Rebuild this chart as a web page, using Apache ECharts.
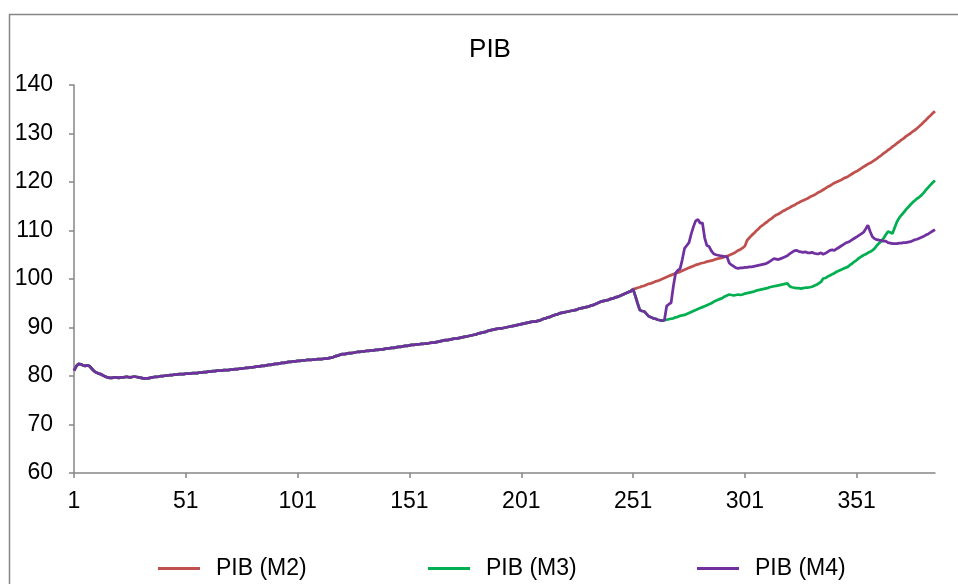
<!DOCTYPE html>
<html>
<head>
<meta charset="utf-8">
<script src="https://cdn.jsdelivr.net/npm/echarts@6/dist/echarts.min.js"></script>
<style>html,body{margin:0;padding:0;background:#fff;}#chart{width:958px;height:584px;}</style>
</head>
<body>
<div id="chart"></div>
<script>
// Periods 1..386
var periodCount = 386;
var seriesNames = ['PIB (M2)', 'PIB (M3)', 'PIB (M4)'];
var yTicks = { min: 60, max: 140, step: 10 };

// Common path for all three models, periods 1..251
var common = [
  81.1, 82.0, 82.5, 82.4, 82.2, 82.1, 82.2, 82.0, 81.5, 81.0,
  80.7, 80.5, 80.4, 80.1, 79.9, 79.7, 79.6, 79.6, 79.7, 79.7,
  79.6, 79.7, 79.7, 79.8, 79.8, 79.7, 79.8, 79.9, 79.8, 79.7,
  79.6, 79.5, 79.5, 79.5, 79.6, 79.7, 79.8, 79.8, 79.9, 80.0,
  80.0, 80.1, 80.1, 80.2, 80.2, 80.3, 80.3, 80.4, 80.4, 80.4,
  80.5, 80.5, 80.5, 80.6, 80.6, 80.6, 80.7, 80.7, 80.8, 80.8,
  80.9, 80.9, 81.0, 81.0, 81.1, 81.1, 81.1, 81.2, 81.2, 81.2,
  81.3, 81.3, 81.4, 81.4, 81.5, 81.5, 81.6, 81.7, 81.7, 81.8,
  81.8, 81.9, 82.0, 82.0, 82.1, 82.1, 82.2, 82.3, 82.3, 82.4,
  82.5, 82.5, 82.6, 82.7, 82.7, 82.8, 82.9, 82.9, 83.0, 83.0,
  83.1, 83.1, 83.2, 83.2, 83.3, 83.3, 83.3, 83.4, 83.4, 83.5,
  83.5, 83.5, 83.6, 83.6, 83.7, 83.8, 83.9, 84.1, 84.2, 84.4,
  84.5, 84.5, 84.6, 84.7, 84.7, 84.8, 84.9, 85.0, 85.0, 85.1,
  85.1, 85.2, 85.2, 85.3, 85.3, 85.4, 85.4, 85.5, 85.5, 85.6,
  85.7, 85.7, 85.8, 85.8, 85.9, 86.0, 86.0, 86.1, 86.2, 86.2,
  86.3, 86.4, 86.4, 86.5, 86.5, 86.6, 86.6, 86.7, 86.7, 86.8,
  86.9, 86.9, 87.0, 87.1, 87.2, 87.3, 87.4, 87.4, 87.5, 87.6,
  87.7, 87.7, 87.8, 87.9, 88.0, 88.1, 88.2, 88.3, 88.4, 88.5,
  88.6, 88.8, 88.9, 89.0, 89.1, 89.3, 89.4, 89.5, 89.6, 89.7,
  89.8, 89.8, 89.9, 90.0, 90.1, 90.2, 90.3, 90.4, 90.5, 90.6,
  90.7, 90.8, 90.9, 91.0, 91.1, 91.2, 91.2, 91.3, 91.4, 91.6,
  91.8, 91.9, 92.1, 92.2, 92.4, 92.6, 92.7, 92.9, 93.0, 93.1,
  93.2, 93.3, 93.4, 93.5, 93.6, 93.7, 93.9, 94.0, 94.1, 94.2,
  94.3, 94.5, 94.6, 94.8, 95.0, 95.2, 95.4, 95.5, 95.6, 95.7,
  95.9, 96.0, 96.2, 96.3, 96.5, 96.7, 96.9, 97.1, 97.3, 97.5,
  97.9
];

// M2, periods 252..386
var m2Tail = [
  98.0, 98.2, 98.3, 98.5, 98.6, 98.8, 99.0, 99.1, 99.3, 99.5,
  99.6, 99.8, 100.0, 100.2, 100.4, 100.6, 100.8, 101.0, 101.2, 101.3,
  101.5, 101.7, 101.9, 102.1, 102.3, 102.5, 102.7, 102.9, 103.0, 103.2,
  103.3, 103.4, 103.6, 103.7, 103.8, 103.9, 104.1, 104.2, 104.3, 104.4,
  104.6, 104.7, 104.9, 105.1, 105.3, 105.6, 105.9, 106.1, 106.4, 106.8,
  108.0, 108.5, 109.0, 109.4, 109.9, 110.3, 110.8, 111.1, 111.5, 111.8,
  112.2, 112.5, 112.9, 113.2, 113.4, 113.7, 114.0, 114.2, 114.5, 114.7,
  115.0, 115.2, 115.5, 115.7, 116.0, 116.2, 116.4, 116.6, 116.9, 117.1,
  117.3, 117.6, 117.9, 118.1, 118.4, 118.7, 119.0, 119.2, 119.5, 119.8,
  120.0, 120.2, 120.4, 120.7, 120.9, 121.1, 121.4, 121.7, 122.0, 122.2,
  122.5, 122.8, 123.1, 123.4, 123.7, 123.9, 124.2, 124.5, 124.8, 125.2,
  125.5, 125.9, 126.2, 126.6, 126.9, 127.3, 127.6, 128.0, 128.3, 128.7,
  129.0, 129.4, 129.7, 130.0, 130.4, 130.7, 131.1, 131.5, 131.9, 132.4,
  132.8, 133.3, 133.7, 134.2, 134.6
];

// M3 and M4 together, periods 252..265
var m34Shared = [96.5, 95.0, 93.6, 93.4, 93.3, 92.8, 92.3, 92.1, 91.9, 91.8, 91.6, 91.5, 91.4, 91.5];

// M3, periods 266..386
var m3Tail = [
  91.6, 91.7, 91.8, 91.9, 92.1, 92.2, 92.4, 92.5, 92.6, 92.8,
  93.0, 93.2, 93.4, 93.6, 93.8, 94.0, 94.2, 94.4, 94.6, 94.8,
  95.0, 95.3, 95.5, 95.7, 95.9, 96.1, 96.4, 96.6, 96.8, 96.7,
  96.6, 96.7, 96.8, 96.7, 96.8, 97.0, 97.1, 97.2, 97.3, 97.4,
  97.6, 97.7, 97.8, 97.9, 98.0, 98.1, 98.3, 98.4, 98.5, 98.6,
  98.7, 98.8, 98.9, 99.0, 99.1, 98.5, 98.3, 98.2, 98.1, 98.1,
  98.0, 98.1, 98.2, 98.2, 98.3, 98.4, 98.6, 98.8, 99.1, 99.4,
  100.1, 100.2, 100.5, 100.7, 101.0, 101.2, 101.5, 101.7, 101.9, 102.1,
  102.3, 102.5, 102.9, 103.2, 103.6, 103.9, 104.3, 104.6, 104.9, 105.1,
  105.4, 105.6, 105.9, 106.3, 106.9, 107.4, 107.8, 108.4, 109.1, 109.8,
  109.6, 109.4, 110.6, 111.8, 112.6, 113.2, 113.7, 114.3, 114.8, 115.3,
  115.8, 116.2, 116.6, 116.9, 117.3, 117.8, 118.4, 118.9, 119.4, 119.9,
  120.3
];

// M4, periods 266..386
var m4Tail = [
  94.4, 94.8, 95.1, 98.5, 101.2, 101.8, 102.1, 104.0, 106.3, 106.9,
  107.5, 109.3, 110.8, 112.0, 112.3, 111.5, 111.6, 108.5, 106.9, 106.7,
  105.8, 105.2, 105.0, 104.9, 104.8, 104.7, 104.6, 104.6, 103.3, 102.9,
  102.6, 102.3, 102.2, 102.3, 102.3, 102.4, 102.4, 102.5, 102.5, 102.6,
  102.7, 102.8, 102.9, 103.0, 103.1, 103.3, 103.6, 103.9, 104.2, 104.1,
  104.0, 104.2, 104.4, 104.6, 104.8, 105.2, 105.5, 105.8, 105.9, 105.7,
  105.6, 105.5, 105.6, 105.4, 105.4, 105.5, 105.3, 105.2, 105.2, 105.4,
  105.1, 105.3, 105.6, 105.9, 106.0, 105.9, 106.2, 106.5, 106.8, 107.1,
  107.4, 107.6, 107.8, 108.1, 108.4, 108.7, 109.0, 109.3, 109.6, 110.3,
  111.1, 109.8, 108.7, 108.3, 108.1, 108.0, 107.9, 107.8, 107.8, 107.5,
  107.4, 107.3, 107.3, 107.3, 107.4, 107.4, 107.5, 107.5, 107.6, 107.7,
  107.9, 108.1, 108.2, 108.4, 108.6, 108.8, 109.1, 109.3, 109.6, 109.9,
  110.2
];

var categories = [];
for (var i = 1; i <= periodCount; i++) categories.push(String(i));

var m2 = common.concat(m2Tail);
var m3 = common.concat(m34Shared, m3Tail);
var m4 = common.concat(m34Shared, m4Tail);

var FONT = '"Liberation Sans", Arial, sans-serif';
var AXIS = '#868686';
var colors = ['#C0504D', '#00B050', '#7030A0'];

var chart = echarts.init(document.getElementById('chart'), null, { renderer: 'canvas' });

function legendFor(name, left) {
  return {
    data: [name], left: left, top: 557, padding: 0,
    icon: 'rect', itemWidth: 42, itemHeight: 3,
    textStyle: { fontFamily: FONT, fontSize: 23, color: '#000', padding: [0, 0, 0, 11] }
  };
}

chart.setOption({
  animation: false,
  backgroundColor: '#fff',
  color: colors,
  graphic: [{
    type: 'rect', silent: true, z: -10,
    shape: { x: 9.5, y: 14.5, width: 1200, height: 900 },
    style: { fill: null, stroke: AXIS, lineWidth: 1.5 }
  }],
  title: {
    text: 'PIB', left: 490, top: 37, textAlign: 'center', padding: 0,
    textStyle: { fontFamily: FONT, fontSize: 26, fontWeight: 'normal', color: '#000' }
  },
  legend: [legendFor(seriesNames[0], 158), legendFor(seriesNames[1], 428), legendFor(seriesNames[2], 697)],
  grid: { left: 74, right: 23, top: 85, bottom: 111 },
  xAxis: {
    type: 'category', data: categories, boundaryGap: false,
    axisLine: { lineStyle: { color: AXIS, width: 1.5 } },
    axisTick: { interval: 49, length: 5, lineStyle: { color: AXIS, width: 1.5 } },
    axisLabel: { interval: 49, margin: 17, fontFamily: FONT, fontSize: 23, color: '#000' },
    splitLine: { show: false }
  },
  yAxis: {
    type: 'value', min: yTicks.min, max: yTicks.max, interval: yTicks.step,
    axisLine: { show: true, lineStyle: { color: AXIS, width: 1.5 } },
    axisTick: { show: true, length: 5, lineStyle: { color: AXIS, width: 1.5 } },
    axisLabel: { margin: 21, fontFamily: FONT, fontSize: 23, color: '#000' },
    splitLine: { show: false }
  },
  series: [
    { name: seriesNames[0], type: 'line', data: m2, showSymbol: false, lineStyle: { width: 2.75, color: colors[0] }, itemStyle: { color: colors[0] } },
    { name: seriesNames[1], type: 'line', data: m3, showSymbol: false, lineStyle: { width: 2.75, color: colors[1] }, itemStyle: { color: colors[1] } },
    { name: seriesNames[2], type: 'line', data: m4, showSymbol: false, lineStyle: { width: 2.75, color: colors[2] }, itemStyle: { color: colors[2] } }
  ]
});
</script>
</body>
</html>
